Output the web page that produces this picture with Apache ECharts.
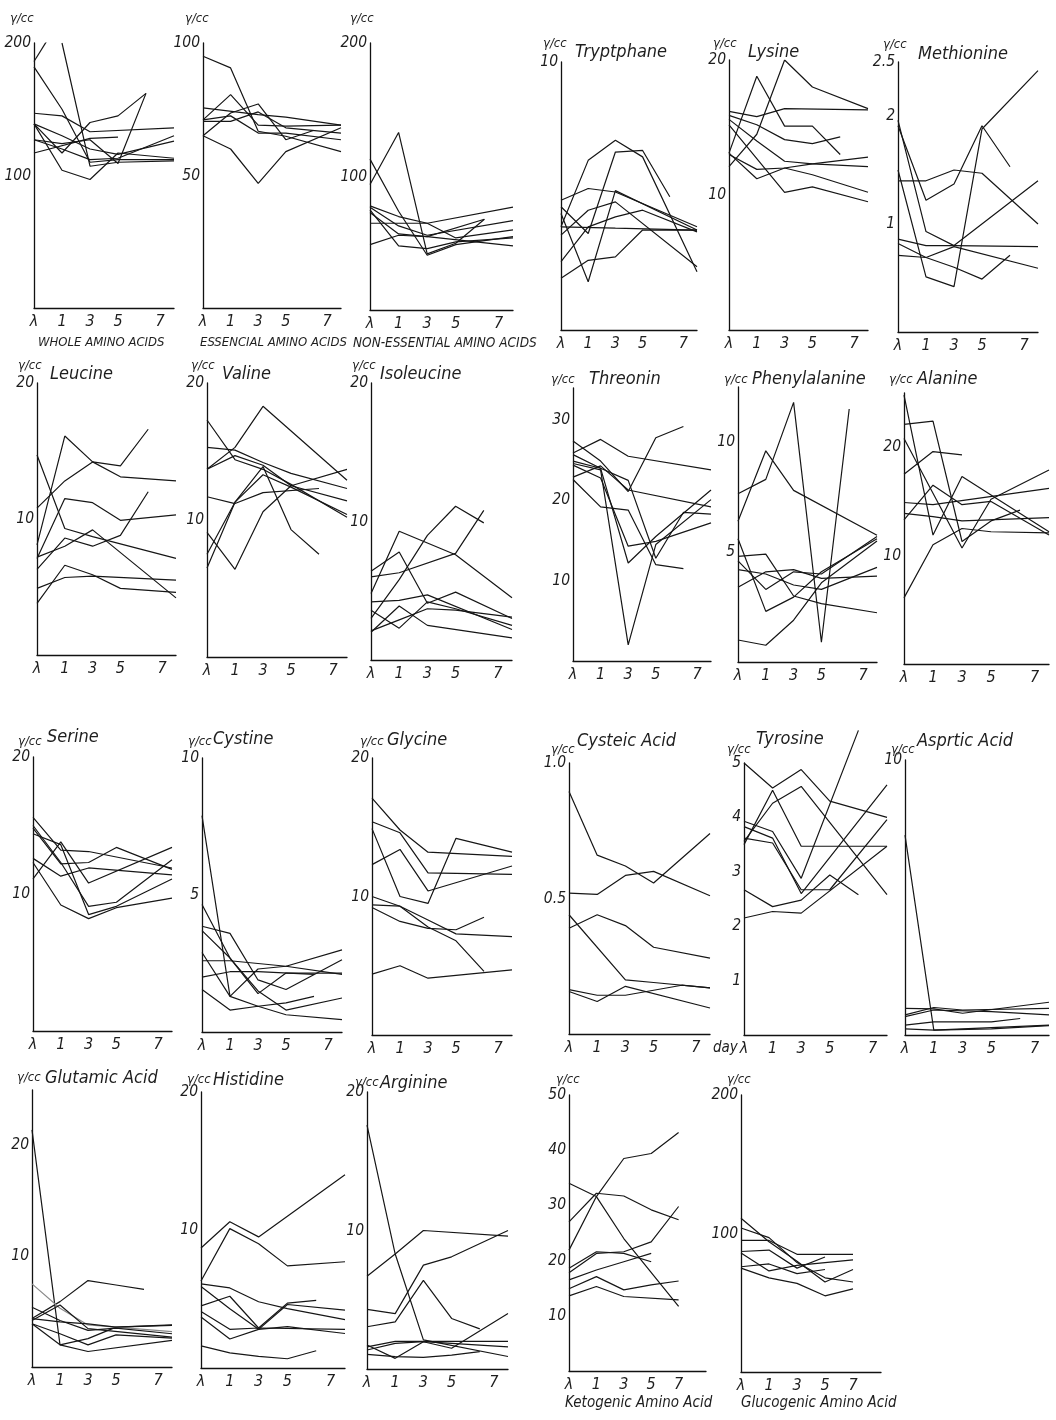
<!DOCTYPE html>
<html><head><meta charset="utf-8">
<script src="https://cdn.jsdelivr.net/npm/echarts@6/dist/echarts.min.js"></script>
<style>html,body{margin:0;padding:0;background:#fff}#c{width:1056px;height:1420px}</style>
</head><body><div id="c"></div>
<script>
// x positions of the sampling points: λ (before), day 1, 3, 5, 7, last
const DAYS = [-1, 1, 3, 5, 7, 9];
const X_TICK_VALUES = [-1, 1, 3, 5, 8];
const X_TICK_VALUES_SHORT = [-1, 1, 3, 5, 7];
const X_TICK_TEXT = ['λ', '1', '3', '5', '7'];

// ---- data (γ/cc), one row per line, values at DAYS (null = no vertex) ----
const wholeAminoAcids = [
  [186, 220, null, null, null, null],
  [null, 200, 107, 110, null, 111],
  [182, 150, 110, 112, null, 112],
  [147, 145, 133, null, null, 136],
  [139, 117, 140, 145, 162, null],
  [117, null, 128, 129, null, null],
  [139, 104, 97, 117, null, 113],
  [127, 124, 127, 109, 162, null],
  [139, 130, 120, 116, null, 126],
  [127, 120, 112, 113, null, 130]
];
const essentialAminoAcids = [
  [95, 90.6, 66.7, 64.8, null, 59],
  [75.5, null, 73, 72, null, 69],
  [71, 80.5, 69, 68.6, null, 69],
  [65, 60, 47, 59, null, 68],
  [65, 73.6, 77, 63.5, 67, null],
  [70.4, 70.4, 74, 68, null, 66],
  [71, 72.5, 66, 66, null, 63.5]
];
const nonEssentialAminoAcids = [
  [113, 74, 41, 49, null, 55],
  [94, 133, 42, 50, 68, null],
  [78, 70, 65, null, null, 77],
  [77, 63, 56, null, null, 67],
  [65, null, 65, 54, null, 60],
  [49, 56, 55, null, null, 48],
  [75, 48, 46, 51, null, 54],
  [73, 57, 55, null, 68, null]
];
const tryptophane = [
  [4.84, 5.28, 5.15, null, null, 3.85],
  [4.6, 3.6, 6.64, 6.7, 4.97, null],
  [4.35, 1.8, 5.2, null, null, 3.73],
  [3.85, 6.33, 7.08, 6.46, null, 2.17],
  [3.54, 4.47, 4.78, null, null, 2.36],
  [2.55, 3.85, 4.22, 4.47, null, 3.66],
  [1.93, 2.6, 2.73, 3.73, null, 3.73],
  [3.85, null, 3.8, null, null, 3.73]
];
const lysine = [
  [13.1, 18.8, 15.1, 15.1, 13, null],
  [12.1, 14.5, 20, 18, null, 16.4],
  [16.2, 15.8, 16.4, null, null, 16.3],
  [15.9, 15.2, 14.1, 13.8, 14.3, null],
  [15.6, 14, 12.5, 12.3, null, 12.1],
  [15.2, 12.7, 10.2, 10.6, null, 9.5],
  [13, 11.9, 12, 12.3, null, 12.8],
  [13.1, 11.2, 12, 11.5, null, 10.2]
];
const methionine = [
  [1.96, 0.93, 0.8, null, null, 1.4],
  [1.91, 1.22, 1.37, 1.91, 1.53, null],
  [1.5, 0.51, 0.42, 1.88, null, 2.42],
  [1.4, 1.4, 1.5, 1.47, null, 1.0],
  [0.86, 0.8, 0.8, null, null, 0.79],
  [0.82, 0.69, 0.6, 0.49, 0.71, null],
  [0.71, 0.69, 0.79, null, null, 0.59]
];
const leucine = [
  [14.7, 9.3, 8.7, null, null, 7.1],
  [10.8, 12.8, 14.2, 13.9, 16.6, null],
  [8.1, 16.1, 14.2, 13.1, null, 12.8],
  [7.1, 11.5, 11.2, 9.9, null, 10.3],
  [6.3, 8.6, 8.0, 8.8, 12, null],
  [7.2, 8, 9.2, null, null, 4.2],
  [4.9, 5.7, 5.8, null, null, 5.5],
  [3.8, 6.6, 5.9, 4.9, null, 4.6]
];
const valine = [
  [17.3, 14.4, 13.7, 12.6, null, 10.2],
  [15.3, 15.1, 14.2, 13.4, null, 12.3],
  [13.7, 15.3, 18.3, null, null, 12.9],
  [13.7, 14.7, 14, 12.5, null, 11.4],
  [11.7, 11.2, 12, null, 12.3, null],
  [9.1, 6.4, 10.6, 12.5, null, 13.7],
  [7.5, 11.3, 13.9, 9.3, 7.5, null],
  [6.5, 11.3, 13.3, 12.4, null, 10.4]
];
const isoleucine = [
  [6.4, 7.8, 4.1, 4.9, null, 3.0],
  [6.0, 6.3, null, 7.7, 10.8, null],
  [4.8, 9.3, null, 7.6, null, 4.5],
  [4.2, 4.3, 4.7, null, null, 2.2],
  [3.6, 2.3, 4.2, 3.7, null, 2.5],
  [2.0, 3.9, 2.5, null, null, 1.6],
  [3.0, 5.8, 9.0, 11.1, 9.9, null],
  [2.1, 2.9, 3.7, 3.6, null, 3.1]
];
const threonine = [
  [25.9, 27.6, 25.5, null, null, 23.8],
  [27.4, 24.9, 21.1, 27.8, 29.2, null],
  [22.9, 24.3, 21.3, null, null, 19.2],
  [22.6, 19.2, 18.8, 12, 11.5, null],
  [24.6, 23.8, 2.0, 14.5, null, 20.1],
  [24.4, 22.8, 14.3, 14.9, null, 17.2],
  [25.7, 24.0, 12.2, 15.5, null, 21.3],
  [24.9, 24.0, 22.5, 12.8, 18.5, 18.3]
];
const phenylalanine = [
  [7.65, 8.3, 11.8, 0.9, 11.5, null],
  [6.4, 9.6, 7.8, null, null, 5.76],
  [5.6, 2.3, 2.95, 4.1, null, 5.6],
  [4.8, 4.9, 3.0, 2.65, null, 2.24],
  [4.6, 3.3, 4.1, 4.0, null, 5.7],
  [4.2, 4.0, 3.5, 3.3, null, 4.3],
  [3.4, 4.1, 4.2, 3.8, null, 3.9],
  [1.0, 0.76, 1.9, 3.6, null, 5.5]
];
const alanine = [
  [24.8, 11.9, 17.3, 15.6, null, 12.2],
  [22.1, 22.4, 11.3, 13.2, 14.2, null],
  [20.8, null, 10.7, 15.2, null, 17.9],
  [17.5, 19.6, 19.3, null, null, null],
  [14.9, 14.7, null, null, null, 16.2],
  [13.9, 13.6, 13.2, null, null, 13.5],
  [13.3, 16.5, 14.7, 15, null, 11.9],
  [6.1, 11, 12.5, 12.2, null, 12.1]
];
const serine = [
  [15.6, 13.2, 13.1, null, null, 11.9],
  [15, 12.3, 9.1, 9.4, null, 12.5],
  [14.8, 12.2, 12.3, 13.4, null, 11.8],
  [14.4, 13.6, 8.5, 9.1, null, 11.1],
  [12.6, 11.3, 11.9, null, null, 11.4],
  [12.3, 9.2, 8.2, 9.0, null, 9.7],
  [11.1, 13.8, 10.8, null, null, 13.4]
];
const cystine = [
  [7.9, 1.3, 2.3, 2.4, null, 3.0],
  [4.65, 2.7, 1.5, 0.8, null, 1.24],
  [3.86, 3.6, 1.9, 1.55, null, 2.64],
  [3.7, 2.7, 1.4, 2.15, null, 2.15],
  [2.6, 2.6, 2.5, 2.4, null, 2.1],
  [2.0, 2.2, 2.2, null, 2.1, null],
  [1.55, 0.8, 0.94, 0.63, null, 0.45],
  [2.9, 1.3, 0.94, 1.06, 1.3, null]
];
const glycine = [
  [17.1, 14.8, 13.2, null, null, 12.9],
  [15.4, 14.6, 11.7, null, null, 11.6],
  [14.9, 10, 9.5, 14.2, null, 13.2],
  [12.3, 13.4, 10.4, null, null, 12.2],
  [10, 9.3, 7.8, 6.8, 4.6, null],
  [9.2, 8.2, 7.7, 7.6, 8.5, null],
  [9.4, 9.3, 8.3, 7.3, null, 7.1],
  [4.4, 5.0, 4.1, null, null, 4.7]
];
const cysteicAcid = [
  [0.895, 0.66, 0.62, 0.557, null, 0.74],
  [0.52, 0.515, 0.585, 0.6, null, 0.51],
  [0.44, null, 0.2, 0.19, null, 0.17],
  [0.39, 0.44, 0.4, 0.32, null, 0.28],
  [0.164, 0.143, 0.143, null, 0.18, 0.17],
  [0.157, 0.12, 0.176, null, null, 0.096]
];
const tyrosine = [
  [5.0, 4.54, 4.88, 4.3, null, 4.0],
  [3.56, 4.26, 4.57, null, null, 2.58],
  [3.5, 4.5, 3.47, null, null, 3.47],
  [3.93, 3.74, 2.88, null, 5.6, null],
  [3.83, 3.62, 2.6, null, null, 4.6],
  [3.62, 3.53, 2.67, 2.67, null, 3.96],
  [2.67, 2.36, 2.48, 2.94, 2.58, null],
  [2.15, 2.27, 2.24, null, null, 3.47]
];
const asparticAcid = [
  [7.27, 0.18, null, null, null, 0.36],
  [0.97, 0.95, 0.79, null, null, 1.19],
  [0.73, 1.0, 0.91, null, null, 0.97],
  [0.67, 0.91, null, 0.85, null, 0.73],
  [0.36, 0.48, null, 0.48, 0.6, null],
  [0.22, 0.18, null, 0.22, null, 0.34]
];
const glutamicAcid = [
  [21.4, 2.0, 2.56, 3.6, null, 3.8],
  [4.37, 5.9, 7.8, 7.4, 7.0, null],
  [7.5, 5.3, 3.8, null, null, 3.2],
  [5.4, 4.2, 3.3, 3.5, null, 3.0],
  [4.37, 4.07, 3.9, 3.6, null, 3.76],
  [4.2, 5.6, 3.46, null, null, 2.7],
  [3.9, 3.0, 2.0, 2.9, null, 2.6],
  [3.9, 2.0, 1.4, null, null, 2.4]
];
const histidine = [
  [8.7, 10.6, 9.5, null, null, 14],
  [6.3, 10.1, 9.0, 7.4, null, 7.7],
  [6.1, 5.8, 4.8, 4.3, null, 3.5],
  [5.9, 4.3, 2.8, 4.6, null, 4.2],
  [4.5, 5.2, 2.9, 4.7, 4.9, null],
  [4.1, 2.8, 2.9, null, null, 2.8],
  [3.7, 2.1, 2.8, 3.0, null, 2.5],
  [1.6, 1.1, 0.84, 0.67, 1.25, null]
];
const arginine = [
  [17.6, 8.3, 2.1, null, null, 0.9],
  [6.7, 8.3, 10, null, null, 9.6],
  [4.3, 4.0, 7.5, 8.1, null, 10.0],
  [3.05, 3.4, 6.4, 3.65, 2.9, null],
  [1.73, 0.77, 1.97, 1.5, null, 4.0],
  [1.6, 2.0, 2.0, null, null, 2.0],
  [1.37, 1.85, 1.97, null, null, 1.6],
  [1.06, 0.9, 0.84, 1.0, 1.25, null]
];
const ketogenicAminoAcids = [
  [34, 31.6, 24, null, 11.7],
  [27, 32.2, 31.7, 29.2, 27.4],
  [21.9, 31.6, 38.5, 39.4, 43.2],
  [18.6, 21.6, 21.3, 19.8, null],
  [17.8, 21.3, 21.6, 23.4, 29.8],
  [16.5, 18.3, 19.8, 21.3, null],
  [14.9, 17.1, 14.7, 15.6, 16.3],
  [13.6, 15.3, 13.5, null, 12.9]
];
const glucogenicAminoAcids = [
  [111, 94, 80, 65, 74],
  [104, 97, 79, 68, 65],
  [95, 95, 85, null, 85],
  [87, 88, 75, 83, null],
  [86, 73, 77, null, 81],
  [76, 78, 71, 74, null],
  [75, 68, 64, 55, 60]
];

// y tick labels per panel
const Y_TICKS = {
  whole: [100, 200], essential: [50, 100], nonEssential: [100, 200],
  tryptophane: [10], lysine: [10, 20], methionine: [1, 2, 2.5],
  leucine: [10, 20], valine: [10, 20], isoleucine: [10, 20],
  threonine: [10, 20, 30], phenylalanine: [5, 10], alanine: [10, 20],
  serine: [10, 20], cystine: [5, 10], glycine: [10, 20],
  cysteic: [0.5, 1], tyrosine: [1, 2, 3, 4, 5], aspartic: [10],
  glutamic: [10, 20], histidine: [10, 20], arginine: [10, 20],
  ketogenic: [10, 20, 30, 40, 50], glucogenic: [100, 200]
};

// ---- layout ----
const FONT = "'Liberation Sans Narrow', 'DejaVu Sans Condensed', sans-serif";
const panels = [
  {d: wholeAminoAcids, yt: Y_TICKS.whole, ymax: 200, iv: 100, box: [34, 43, 174, 308], unit: [10, 12], below: ['WHOLE AMINO ACIDS', 38, 336, 13]},
  {d: essentialAminoAcids, yt: Y_TICKS.essential, ymax: 100, iv: 50, box: [203, 43, 341, 308], unit: [185, 12], below: ['ESSENCIAL AMINO ACIDS', 200, 336, 13]},
  {d: nonEssentialAminoAcids, yt: Y_TICKS.nonEssential, ymax: 200, iv: 100, box: [370, 43, 513, 310], unit: [350, 12], below: ['NON-ESSENTIAL AMINO ACIDS', 353, 336, 13.5]},
  {d: tryptophane, yt: Y_TICKS.tryptophane, ymax: 10, iv: 10, box: [561, 62, 697, 330], unit: [543, 37], title: ['Tryptphane', 575, 43]},
  {d: lysine, yt: Y_TICKS.lysine, ymax: 20, iv: 10, box: [729, 60, 868, 330], unit: [713, 37], title: ['Lysine', 748, 43]},
  {d: methionine, yt: Y_TICKS.methionine, ymax: 2.5, iv: 0.5, box: [898, 62, 1038, 332], unit: [883, 38], title: ['Methionine', 918, 45]},
  {d: leucine, yt: Y_TICKS.leucine, ymax: 20, iv: 10, box: [37, 383, 176, 655], unit: [18, 359], title: ['Leucine', 50, 365]},
  {d: valine, yt: Y_TICKS.valine, ymax: 20, iv: 10, box: [207, 383, 347, 657], unit: [191, 359], title: ['Valine', 222, 365]},
  {d: isoleucine, yt: Y_TICKS.isoleucine, ymax: 20, iv: 10, box: [371, 383, 512, 660], unit: [352, 359], title: ['Isoleucine', 380, 365]},
  {d: threonine, yt: Y_TICKS.threonine, ymax: 34, iv: 10, box: [573, 388, 711, 661], unit: [551, 373], title: ['Threonin', 589, 370]},
  {d: phenylalanine, yt: Y_TICKS.phenylalanine, ymax: 12.5, iv: 5, box: [738, 387, 877, 662], unit: [724, 373], title: ['Phenylalanine', 752, 370]},
  {d: alanine, yt: Y_TICKS.alanine, ymax: 25, iv: 10, box: [904, 393, 1049, 664], unit: [889, 373], title: ['Alanine', 917, 370]},
  {d: serine, yt: Y_TICKS.serine, ymax: 20, iv: 10, box: [33, 757, 172, 1031], unit: [18, 735], title: ['Serine', 47, 728]},
  {d: cystine, yt: Y_TICKS.cystine, ymax: 10, iv: 5, box: [202, 758, 342, 1032], unit: [188, 735], title: ['Cystine', 213, 730]},
  {d: glycine, yt: Y_TICKS.glycine, ymax: 20, iv: 10, box: [372, 758, 512, 1035], unit: [360, 735], title: ['Glycine', 387, 731]},
  {d: cysteicAcid, yt: Y_TICKS.cysteic, ymax: 1, iv: 0.5, box: [569, 763, 710, 1034], unit: [551, 743], title: ['Cysteic Acid', 577, 732], xname: 'day'},
  {d: tyrosine, yt: Y_TICKS.tyrosine, ymax: 5, iv: 1, box: [744, 763, 887, 1035], unit: [727, 743], title: ['Tyrosine', 756, 730], noclip: [3]},
  {d: asparticAcid, yt: Y_TICKS.aspartic, ymax: 10, iv: 10, box: [905, 760, 1049, 1035], unit: [891, 743], title: ['Asprtic Acid', 917, 732]},
  {d: glutamicAcid, yt: Y_TICKS.glutamic, ymax: 25, iv: 10, box: [32, 1090, 172, 1367], unit: [17, 1071], title: ['Glutamic Acid', 45, 1069], gray: [2]},
  {d: histidine, yt: Y_TICKS.histidine, ymax: 20, iv: 10, box: [201, 1092, 345, 1368], unit: [187, 1073], title: ['Histidine', 213, 1071]},
  {d: arginine, yt: Y_TICKS.arginine, ymax: 20, iv: 10, box: [367, 1092, 508, 1369], unit: [355, 1076], title: ['Arginine', 380, 1074]},
  {d: ketogenicAminoAcids, yt: Y_TICKS.ketogenic, ymax: 50, iv: 10, box: [569, 1095, 706, 1371], unit: [556, 1073], below: ['Ketogenic Amino Acid', 565, 1396, 15], short: true},
  {d: glucogenicAminoAcids, yt: Y_TICKS.glucogenic, ymax: 200, iv: 100, box: [741, 1095, 881, 1372], unit: [727, 1073], below: ['Glucogenic Amino Acid', 741, 1396, 15], short: true}
];

const txt = (size) => ({fontFamily: FONT, fontStyle: 'italic', fontWeight: 'normal', fontSize: size, color: '#1e1e1e'});
const option = {animation: false, backgroundColor: '#ffffff', title: [], grid: [], xAxis: [], yAxis: [], series: []};

panels.forEach((p, i) => {
  const [l, t, r, b] = p.box;
  option.grid.push({left: l, top: t, width: r - l, height: b - t});
  const xv = p.short ? X_TICK_VALUES_SHORT : X_TICK_VALUES;
  option.xAxis.push({
    type: 'value', gridIndex: i, min: -1, max: 9, interval: 1,
    name: p.xname || '', nameLocation: 'end', nameGap: 3,
    nameTextStyle: Object.assign(txt(15), {verticalAlign: 'top', padding: [7, 0, 0, 0]}),
    axisLine: {onZero: false, lineStyle: {color: '#111', width: 1.3}},
    axisTick: {show: false}, splitLine: {show: false},
    axisLabel: Object.assign(txt(16), {margin: 6, hideOverlap: false, showMinLabel: true, showMaxLabel: true,
      formatter: v => { const k = xv.indexOf(Math.round(v)); return (Math.abs(v - Math.round(v)) < 1e-6 && k >= 0) ? X_TICK_TEXT[k] : ''; }})
  });
  option.yAxis.push({
    type: 'value', gridIndex: i, min: 0, max: p.ymax, interval: p.iv,
    axisLine: {show: true, onZero: false, lineStyle: {color: '#111', width: 1.3}},
    axisTick: {show: false}, splitLine: {show: false},
    axisLabel: Object.assign(txt(15.5), {margin: 3, showMinLabel: true, showMaxLabel: true,
      formatter: v => { const m = p.yt.find(q => Math.abs(q - v) < 1e-6); return m === undefined ? '' : (p.ymax === 1 && m === 1 ? '1.0' : String(m)); }})
  });
  p.d.forEach((line, k) => {
    option.series.push({
      type: 'line', xAxisIndex: i, yAxisIndex: i, symbol: 'none', silent: true,
      clip: !(p.noclip && p.noclip.includes(k)),
      data: line.map((v, j) => [DAYS[j], v]).filter(q => q[1] !== null),
      lineStyle: {color: (p.gray && p.gray.includes(k)) ? '#8a8a8a' : '#161616', width: 1.2}
    });
  });
  option.title.push({text: 'γ/cc', left: p.unit[0], top: p.unit[1], padding: 0, textStyle: txt(13)});
  if (p.title) option.title.push({text: p.title[0], left: p.title[1], top: p.title[2], padding: 0, textStyle: txt(18)});
  if (p.below) option.title.push({text: p.below[0], left: p.below[1], top: p.below[2], padding: 0, textStyle: txt(p.below[3])});
});

const chart = echarts.init(document.getElementById('c'), null, {renderer: 'canvas'});
chart.setOption(option);
</script>
</body></html>
